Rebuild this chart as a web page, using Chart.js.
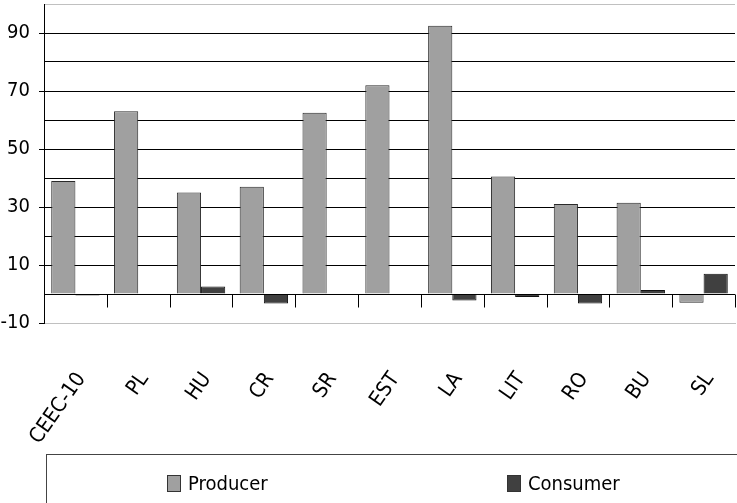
<!DOCTYPE html>
<html>
<head>
<meta charset="utf-8">
<script src="https://cdn.jsdelivr.net/npm/chart.js@4/dist/chart.umd.min.js"></script>
<style>
  html, body { margin: 0; padding: 0; background: #fff; overflow: hidden; }
  #wrap { position: relative; width: 737px; height: 503px; }
  #legendBox {
    position: absolute; left: 46px; top: 454px; width: 700px; height: 60px;
    border: 1px solid #444; box-sizing: border-box;
    font-family: "DejaVu Sans", sans-serif; font-stretch: condensed;
    font-size: 20px; color: #000;
  }
  .item { position: absolute; top: 16px; display: flex; align-items: center; }
  .swatch { width: 14px; height: 17px; border: 1px solid #333; box-sizing: border-box; margin-right: 7px; }
</style>
</head>
<body>
<div id="wrap">
  <canvas id="chart" width="737" height="503"></canvas>
  <div id="legendBox"></div>
</div>
<script>
const categories = ["CEEC-10", "PL", "HU", "CR", "SR", "EST", "LA", "LIT", "RO", "BU", "SL"];
const producer = [39, 63, 35, 37, 62.5, 72, 92.5, 40.5, 31, 31.5, -3];
const consumer = [-0.5, 0, 2.6, -3.3, 0, 0, -2.2, -1, -3.3, 1.4, 7];
const seriesNames = ["Producer", "Consumer"];
const seriesColors = ["#a0a0a0", "#404040"];
const yLabels = [-10, 10, 30, 50, 70, 90];

const FONT = '"DejaVu Sans", sans-serif';
// "condensed" goes into the canvas font shorthand as font-stretch
const yFont = { family: FONT, size: 20, weight: "condensed" };
const xFont = { family: FONT, size: 21, weight: "condensed" };

// small tick marks hanging from the zero line at category boundaries
const zeroTicks = {
  id: "zeroTicks",
  afterDatasetsDraw(chart) {
    const x = chart.scales.x, y = chart.scales.y, ctx = chart.ctx;
    const y0 = Math.round(y.getPixelForValue(0)) + 0.5;
    ctx.save();
    ctx.strokeStyle = "#000";
    ctx.lineWidth = 1;
    ctx.beginPath();
    ctx.moveTo(x.left, y0);
    ctx.lineTo(x.right, y0);
    for (let i = 0; i <= categories.length; i++) {
      const px = Math.round(x.left + i * x.width / categories.length) + 0.5;
      ctx.moveTo(px, y0);
      ctx.lineTo(px, y0 + 13);
    }
    ctx.stroke();
    ctx.restore();
  }
};

new Chart(document.getElementById("chart"), {
  type: "bar",
  data: {
    labels: categories,
    datasets: [
      {
        label: seriesNames[0],
        data: producer,
        backgroundColor: seriesColors[0],
        borderColor: "#2a2a2a",
        borderWidth: 1,
        categoryPercentage: 0.77,
        barPercentage: 1,
      },
      {
        label: seriesNames[1],
        data: consumer,
        backgroundColor: seriesColors[1],
        borderColor: "#111",
        borderWidth: 1,
        categoryPercentage: 0.77,
        barPercentage: 1,
      },
    ],
  },
  options: {
    responsive: false,
    animation: false,
    layout: { autoPadding: false, padding: { top: 4, right: 2, bottom: 49, left: 0 } },
    plugins: {
      legend: { display: false },
      tooltip: { enabled: false },
    },
    scales: {
      x: {
        grid: { display: false, drawTicks: false },
        border: { color: "#c0c0c0" },
        ticks: {
          minRotation: 55,
          maxRotation: 55,
          autoSkip: false,
          padding: 45,
          labelOffset: 6,
          color: "#000",
          font: xFont,
        },
        afterFit(s) {
          s.height = 131;
          s.paddingLeft = 0;
          s.paddingRight = 0;
        },
      },
      y: {
        min: -10,
        max: 100,
        ticks: {
          stepSize: 10,
          autoSkip: false,
          padding: 9,
          color: "#000",
          font: yFont,
          callback: (v) => (yLabels.includes(v) ? String(v) : ""),
        },
        grid: {
          tickLength: 5,
          color: (c) => (c.tick.value === -10 || c.tick.value === 100 ? "#c0c0c0" : "#000"),
          tickColor: (c) => (yLabels.includes(c.tick.value) ? "#000" : "rgba(0,0,0,0)"),
        },
        border: { color: "#000" },
        afterFit(s) {
          s.width = 44;
          s.paddingTop = 0;
          s.paddingBottom = 0;
        },
      },
    },
  },
  plugins: [zeroTicks],
});

// legend box under the plot
const box = document.getElementById("legendBox");
const itemLeft = [120, 460];
seriesNames.forEach((name, i) => {
  const it = document.createElement("div");
  it.className = "item";
  it.style.left = itemLeft[i] + "px";
  const sw = document.createElement("span");
  sw.className = "swatch";
  sw.style.background = seriesColors[i];
  const tx = document.createElement("span");
  tx.textContent = name;
  it.appendChild(sw);
  it.appendChild(tx);
  box.appendChild(it);
});
</script>
</body>
</html>
